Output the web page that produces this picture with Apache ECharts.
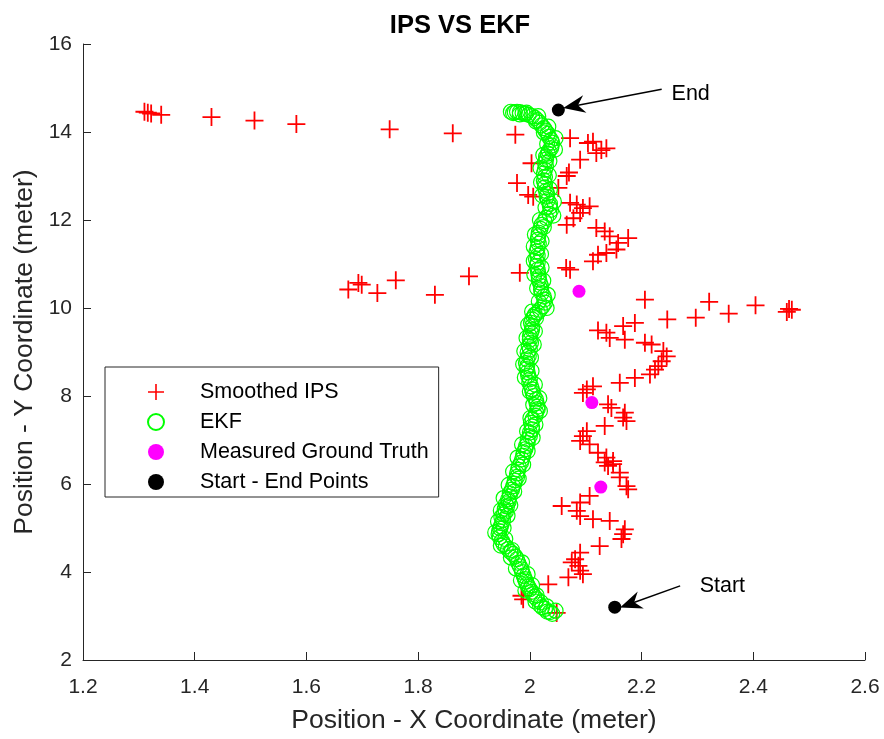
<!DOCTYPE html>
<html>
<head>
<meta charset="utf-8">
<script src="https://cdn.jsdelivr.net/npm/echarts@6/dist/echarts.min.js"></script>
<style>html,body{margin:0;padding:0;background:#fff}#c{width:884px;height:739px}</style>
</head>
<body>
<div id="c"></div>
<script>
// Smoothed IPS points [x, y]
const ipsPoints = [
  [1.310,14.46],[1.316,14.44],[1.322,14.42],[1.340,14.39],[1.430,14.34],[1.507,14.26],[1.582,14.18],
  [1.749,14.06],[1.862,13.97],[1.974,13.94],[2.072,13.86],
  [2.104,13.75],[2.113,13.78],[2.128,13.59],[2.137,13.63],[2.119,13.52],[2.090,13.37],[2.003,13.29],
  [2.070,13.08],[2.066,13.00],[1.977,12.84],[1.997,12.57],[2.006,12.53],[2.051,12.73],[2.072,12.39],
  [2.084,12.35],[2.095,12.27],[2.107,12.31],[2.090,12.16],[2.078,12.04],[2.066,11.89],[2.119,11.82],
  [2.134,11.74],[2.143,11.63],[2.158,11.48],[2.176,11.59],[2.155,11.33],[2.137,11.25],[2.122,11.21],
  [2.113,11.06],[2.072,10.87],[2.065,10.91],[1.982,10.80],
  [1.675,10.42],[1.693,10.57],[1.699,10.53],[1.727,10.34],[1.760,10.63],[1.830,10.30],[1.891,10.72],
  [2.206,10.19],[2.246,9.74],[2.297,9.78],[2.321,10.14],[2.356,9.87],[2.404,10.06],[2.460,9.91],
  [2.464,9.98],[2.469,9.96],
  [2.122,9.49],[2.137,9.44],[2.143,9.32],[2.167,9.59],[2.188,9.66],[2.170,9.28],[2.206,9.21],
  [2.218,9.17],[2.239,9.02],[2.245,8.90],[2.236,8.79],[2.230,8.68],[2.224,8.60],[2.215,8.49],
  [2.188,8.41],[2.161,8.30],[2.102,8.15],[2.113,8.22],[2.095,8.07],[2.146,7.73],[2.140,7.81],
  [2.170,7.62],[2.167,7.51],[2.173,7.43],[2.134,7.32],[2.102,7.20],[2.095,7.09],[2.090,6.98],
  [2.107,6.90],[2.122,6.71],[2.137,6.60],[2.149,6.52],[2.140,6.41],[2.161,6.26],
  [2.134,6.49],[2.149,6.45],[2.161,6.15],[2.173,5.95],[2.176,5.88],[2.107,5.73],[2.090,5.58],
  [2.057,5.50],[2.084,5.39],[2.090,5.27],[2.113,5.20],[2.143,5.16],[2.170,4.97],[2.167,4.86],
  [2.164,4.75],[2.125,4.59],[2.090,4.44],[2.081,4.29],[2.075,4.22],[2.087,4.14],[2.090,4.03],
  [2.095,3.95],[2.069,3.88],[2.033,3.72],[1.985,3.46],[1.988,3.38],[2.048,3.07]
];
// EKF estimate points [x, y]
const ekfPoints = [
  [2.040,3.05],[2.036,3.09],[2.031,3.10],[2.027,3.16],[2.022,3.20],[2.018,3.25],[2.020,3.31],[2.013,3.38],
  [2.008,3.44],[2.005,3.50],[2.003,3.55],[2.000,3.61],[1.997,3.67],[1.995,3.72],[1.993,3.78],[1.991,3.84],
  [1.989,3.92],[1.986,4.00],[1.985,4.06],[1.982,4.13],[1.979,4.21],[1.977,4.29],[1.974,4.35],[1.970,4.41],
  [1.965,4.46],[1.961,4.52],[1.957,4.58],[1.953,4.63],[1.950,4.71],[1.946,4.79],[1.944,4.86],[1.945,4.93],
  [1.947,4.99],[1.948,5.04],[1.950,5.11],[1.952,5.18],[1.949,5.25],[1.953,5.31],[1.957,5.37],[1.955,5.43],
  [1.959,5.49],[1.957,5.54],[1.962,5.60],[1.961,5.65],[1.964,5.72],[1.964,5.79],[1.968,5.87],[1.970,5.95],
  [1.972,6.01],[1.973,6.08],[1.977,6.16],[1.977,6.24],[1.979,6.32],[1.980,6.40],[1.984,6.48],[1.986,6.56],
  [1.988,6.64],[1.989,6.72],[1.992,6.79],[1.993,6.86],[1.996,6.93],[1.996,7.01],[2.000,7.09],[2.000,7.17],
  [2.004,7.24],[2.004,7.31],[2.002,7.39],[2.005,7.47],[2.010,7.55],[2.011,7.63],[2.014,7.70],[2.014,7.76],
  [2.012,7.84],[2.011,7.92],[2.007,8.00],[2.005,8.08],[2.004,8.15],[2.002,8.22],[1.999,8.30],[2.000,8.38],
  [1.997,8.46],[1.996,8.54],[1.994,8.61],[1.995,8.67],[1.993,8.75],[1.995,8.83],[1.998,8.91],[1.996,8.99],
  [2.000,9.06],[1.998,9.13],[2.002,9.21],[2.000,9.28],[2.000,9.36],[2.002,9.44],[2.004,9.51],[2.004,9.58],
  [2.002,9.66],[2.004,9.74],[2.007,9.80],[2.009,9.85],[2.014,9.90],[2.018,9.96],[2.023,10.04],[2.027,10.12],
  [2.026,10.19],[2.025,10.26],[2.021,10.34],[2.020,10.42],[2.020,10.50],[2.018,10.58],[2.016,10.65],[2.016,10.71],
  [2.015,10.79],[2.014,10.87],[2.012,10.95],[2.014,11.03],[2.011,11.11],[2.014,11.19],[2.012,11.28],[2.014,11.37],
  [2.016,11.46],[2.014,11.55],[2.015,11.63],[2.016,11.71],[2.019,11.80],[2.021,11.89],[2.026,11.97],[2.029,12.05],
  [2.035,12.14],[2.038,12.23],[2.036,12.30],[2.036,12.37],[2.032,12.45],[2.030,12.53],[2.031,12.60],[2.029,12.66],
  [2.027,12.74],[2.027,12.82],[2.025,12.90],[2.027,12.98],[2.025,13.06],[2.027,13.14],[2.029,13.22],[2.027,13.30],
  [2.029,13.37],[2.029,13.44],[2.032,13.51],[2.034,13.57],[2.038,13.63],[2.039,13.69],[2.040,13.76],[2.038,13.82],
  [2.034,13.89],[2.032,13.96],[2.028,14.03],[2.025,14.09],[2.021,14.15],[2.018,14.21],[2.013,14.27],[2.009,14.32],
  [2.004,14.36],[1.998,14.39],[1.992,14.41],[1.987,14.43],[1.982,14.45],[1.977,14.46],[1.973,14.45],[1.970,14.43],
  [2.046,3.12],[2.030,3.22],[2.010,3.33],[2.012,3.47],[1.992,3.58],[2.004,3.70],[1.984,3.81],[1.996,3.95],
  [1.975,4.08],[1.986,4.22],[1.966,4.33],[1.968,4.50],[1.948,4.60],[1.956,4.75],[1.938,4.90],[1.953,5.00],
  [1.943,5.15],[1.960,5.28],[1.948,5.40],[1.965,5.52],[1.953,5.68],[1.972,5.83],[1.962,5.98],[1.980,6.12],
  [1.970,6.28],[1.988,6.44],[1.978,6.60],[1.996,6.75],[1.986,6.90],[2.005,7.05],[1.995,7.20],[2.010,7.35],
  [2.001,7.50],[2.018,7.66],[2.006,7.80],[2.017,7.95],[2.000,8.10],[2.009,8.26],[1.991,8.42],[2.003,8.57],
  [1.988,8.72],[2.002,8.87],[1.990,9.02],[2.007,9.17],[1.994,9.32],[2.009,9.47],[1.997,9.62],[2.011,9.77],
  [2.004,9.92],[2.030,10.00],[2.016,10.15],[2.032,10.30],[2.013,10.45],[2.024,10.62],[2.008,10.76],[2.021,10.92],
  [2.007,11.07],[2.020,11.23],[2.007,11.40],[2.021,11.52],[2.009,11.67],[2.025,11.84],[2.018,12.00],[2.042,12.10],
  [2.028,12.28],[2.043,12.42],[2.022,12.56],[2.036,12.70],[2.020,12.86],[2.034,13.02],[2.019,13.18],[2.035,13.34],
  [2.024,13.48],[2.045,13.60],[2.031,13.73],[2.046,13.86],[2.025,13.99],[2.033,14.12],[2.011,14.24],[2.015,14.36],
  [1.994,14.44],[1.982,14.40],[1.966,14.46]
];
const groundTruth = [[2.088,10.38],[2.111,7.85],[2.127,5.93]];
const startEnd = [[2.152,3.20],[2.051,14.50]];
// annotation arrows: [tailX, tailY, headX, headY, label]
const arrows = [
  [2.236,14.97,2.079,14.59,'End'],
  [2.269,3.685,2.180,3.28,'Start']
];
const arrowLabelOffsets = [[2,6],[12,3]];
const legendNames = ['Smoothed IPS','EKF','Measured Ground Truth','Start - End Points'];
const xTicks = {min:1.2, max:2.6, interval:0.2};
const yTicks = {min:2, max:16, interval:2};

const FONT = 'Liberation Sans, Arial, Helvetica, sans-serif';
const AX = '#262626';
const plusPath = 'path://M9,0h2v20h-2zM0,9h20v2h-20z';
const chart = echarts.init(document.getElementById('c'), null, {renderer:'canvas'});
chart.setOption({
  animation:false,
  backgroundColor:'#fff',
  title:{text:'IPS VS EKF', left:455, textAlign:'center', top:8,
    textStyle:{fontFamily:FONT, fontSize:25.5, fontWeight:'bold', color:'#000'}},
  grid:{left:83, right:19, top:44, bottom:78, containLabel:false},
  legend:{
    orient:'vertical', left:105, top:367,
    data:legendNames,
    itemWidth:16, itemHeight:16, itemGap:8,
    padding:[14,10,4,42],
    borderColor:'#262626', borderWidth:1, backgroundColor:'#fff',
    formatter:n=>'{a|'+n+'}',
    textStyle:{fontFamily:FONT, fontSize:21.5, color:'#000',
      rich:{a:{fontFamily:FONT, fontSize:21.5, color:'#000', lineHeight:22, padding:[0,0,0,31]}}}
  },
  xAxis:{type:'value', min:xTicks.min, max:xTicks.max, interval:xTicks.interval,
    name:'Position - X Coordinate (meter)', nameLocation:'middle', nameGap:47,
    nameTextStyle:{fontFamily:FONT, fontSize:26.5, color:AX},
    axisLine:{show:true, onZero:false, lineStyle:{color:AX, width:1}},
    axisTick:{show:true, inside:true, length:8, lineStyle:{color:AX}},
    axisLabel:{fontFamily:FONT, fontSize:21, color:AX, margin:17},
    splitLine:{show:false}},
  yAxis:{type:'value', min:yTicks.min, max:yTicks.max, interval:yTicks.interval,
    name:'Position - Y Coordinate (meter)', nameLocation:'middle', nameGap:44, nameRotate:90,
    nameTextStyle:{fontFamily:FONT, fontSize:26.5, color:AX},
    axisLine:{show:true, onZero:false, lineStyle:{color:AX, width:1}},
    axisTick:{show:true, inside:true, length:8, lineStyle:{color:AX}},
    axisLabel:{fontFamily:FONT, fontSize:21, color:AX, margin:11},
    splitLine:{show:false}},
  series:[
    {name:'Smoothed IPS', type:'scatter', data:ipsPoints, symbol:plusPath, symbolSize:18,
      itemStyle:{color:'#ff0000', opacity:1}, z:2},
    {name:'EKF', type:'scatter', data:ekfPoints, symbol:'circle', symbolSize:15,
      itemStyle:{color:'rgba(0,0,0,0)', borderColor:'#00ff00', borderWidth:1.2, opacity:1}, z:3},
    {name:'Measured Ground Truth', type:'scatter', data:groundTruth, symbol:'circle', symbolSize:13,
      itemStyle:{color:'#ff00ff', opacity:1}, z:4},
    {name:'Start - End Points', type:'scatter', data:startEnd, symbol:'circle', symbolSize:13,
      itemStyle:{color:'#000000', opacity:1}, z:5},
    {name:'annot', type:'scatter', data:[], z:6,
      markLine:{silent:true, animation:false,
        symbol:['none','path://M10,0L20,22L10,15L0,22Z'], symbolSize:[18,22],
        lineStyle:{color:'#000', width:1.5, type:'solid', opacity:1},
        itemStyle:{color:'#000'},
        label:{show:true, position:'start', distance:8, fontFamily:FONT, fontSize:21.5, color:'#000'},
        data:arrows.map((a,i)=>[
          {coord:[a[0],a[1]], label:{formatter:a[4], offset:arrowLabelOffsets[i]}},
          {coord:[a[2],a[3]]}])
      }}
  ]
});
</script>
</body>
</html>
